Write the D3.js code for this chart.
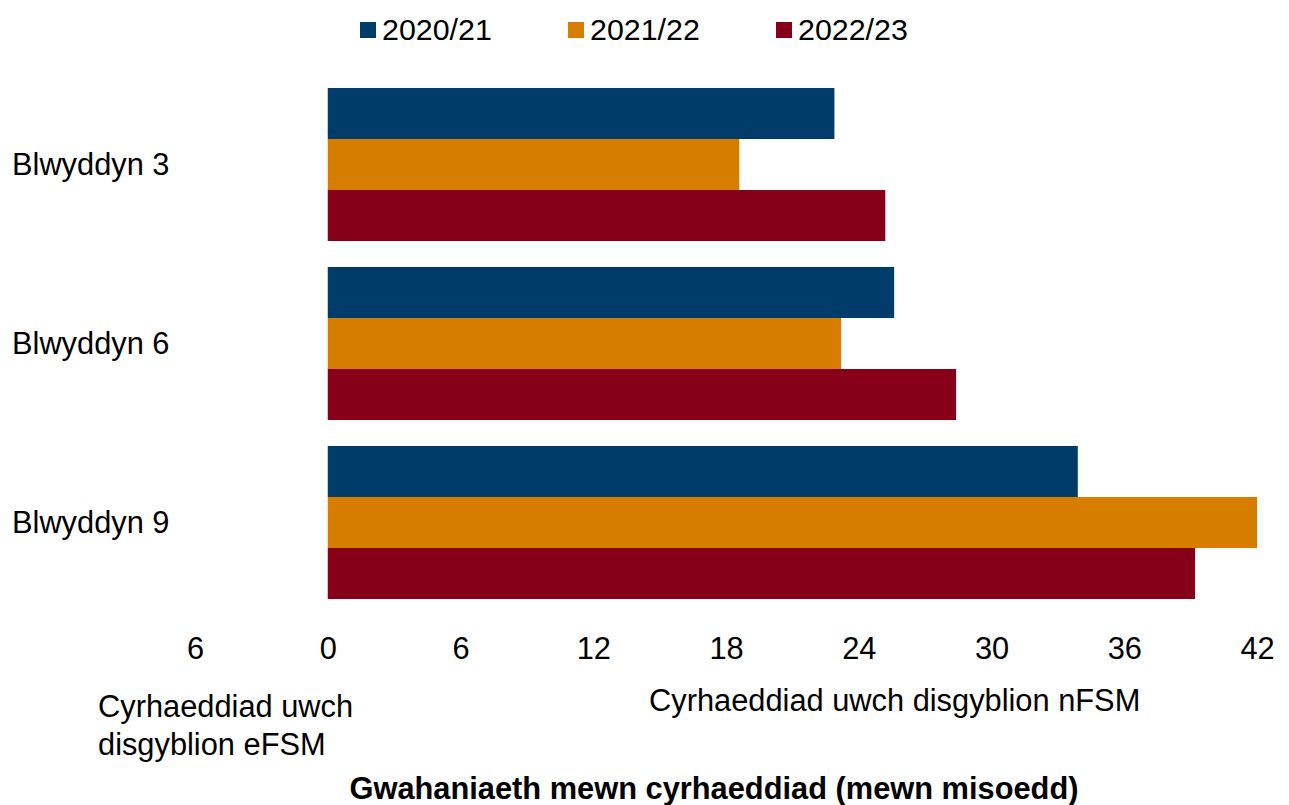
<!DOCTYPE html>
<html>
<head>
<meta charset="utf-8">
<script src="https://cdn.jsdelivr.net/npm/d3@7"></script>
<style>
  body { margin: 0; background: #fff; }
  text { font-family: "Liberation Sans", Arial, sans-serif; fill: #000; }
</style>
</head>
<body>
<div id="chart"></div>
<script>
// data
var categories = ["Blwyddyn 3", "Blwyddyn 6", "Blwyddyn 9"];
var seriesNames = ["2020/21", "2021/22", "2022/23"];
var values2020 = [22.9, 25.6, 33.9];
var values2021 = [18.6, 23.2, 42.0];
var values2022 = [25.2, 28.4, 39.2];
var tickValues = [-6, 0, 6, 12, 18, 24, 30, 36, 42];
var seriesColors = ["#003c69", "#d67d00", "#86001a"];

var allValues = [values2020, values2021, values2022];

var w = 1289;
var h = 805;
var fontSize = 30.8;

var svg = d3.select("#chart").append("svg").attr("width", w).attr("height", h);

//scales
var xScale = d3.scaleLinear().domain([-6, 42]).range([195, 1257]);

var yScale = d3.scaleBand().domain(categories).range([75, 612])
    .paddingInner(0.145).paddingOuter(0.0725);

var ySub = d3.scaleBand().domain(seriesNames).range([0, yScale.bandwidth()]);

var colors = d3.scaleOrdinal().domain(seriesNames).range(seriesColors);

// one group per category, one rect per series
var groups = svg.selectAll("g.cat")
    .data(categories)
    .enter()
    .append("g")
    .attr("class", "cat")
    .attr("transform", function (d) { return "translate(0," + yScale(d) + ")"; });

groups.selectAll("rect")
    .data(function (d, i) {
        return seriesNames.map(function (s, j) {
            return { series: s, value: allValues[j][i] };
        });
    })
    .enter()
    .append("rect")
    .attr("x", xScale(0))
    .attr("y", function (d) { return ySub(d.series); })
    .attr("width", function (d) { return xScale(d.value) - xScale(0); })
    .attr("height", ySub.bandwidth())
    .attr("fill", function (d) { return colors(d.series); });

// category labels
svg.selectAll("text.cat")
    .data(categories)
    .enter()
    .append("text")
    .attr("class", "cat")
    .attr("x", 12)
    .attr("y", function (d) { return yScale(d) + yScale.bandwidth() / 2; })
    .attr("dy", "0.35em")
    .attr("font-size", fontSize)
    .text(function (d) { return d; });

//x axis, labels only
var xAxis = d3.axisBottom(xScale)
    .tickValues(tickValues)
    .tickSize(0)
    .tickPadding(0)
    .tickFormat(function (d) { return Math.abs(d); });

var axisG = svg.append("g")
    .attr("transform", "translate(0,636)")
    .call(xAxis);
axisG.select(".domain").remove();
axisG.selectAll("text")
    .attr("font-family", "Liberation Sans, Arial, sans-serif")
    .attr("font-size", fontSize)
    .attr("fill", "#000")
    .attr("dy", "0.74em");

// legend
var legendX = [360, 568, 776];
var legend = svg.selectAll("g.legend")
    .data(seriesNames)
    .enter()
    .append("g")
    .attr("class", "legend")
    .attr("transform", function (d, i) { return "translate(" + legendX[i] + ",0)"; });

legend.append("rect")
    .attr("x", 0)
    .attr("y", 22)
    .attr("width", 16)
    .attr("height", 16)
    .attr("fill", function (d) { return colors(d); });

legend.append("text")
    .attr("x", 22)
    .attr("y", 40)
    .attr("font-size", 30.4)
    .text(function (d) { return d; });

// side notes under the axis
var leftNote = svg.append("text")
    .attr("x", 98)
    .attr("y", 717)
    .attr("font-size", fontSize);
leftNote.append("tspan").attr("x", 98).text("Cyrhaeddiad uwch");
leftNote.append("tspan").attr("x", 98).attr("dy", 38).text("disgyblion eFSM");

svg.append("text")
    .attr("x", 649)
    .attr("y", 711)
    .attr("font-size", fontSize)
    .text("Cyrhaeddiad uwch disgyblion nFSM");

// axis title
svg.append("text")
    .attr("x", 714)
    .attr("y", 799)
    .attr("text-anchor", "middle")
    .attr("font-size", fontSize)
    .attr("font-weight", "bold")
    .text("Gwahaniaeth mewn cyrhaeddiad (mewn misoedd)");
</script>
</body>
</html>
